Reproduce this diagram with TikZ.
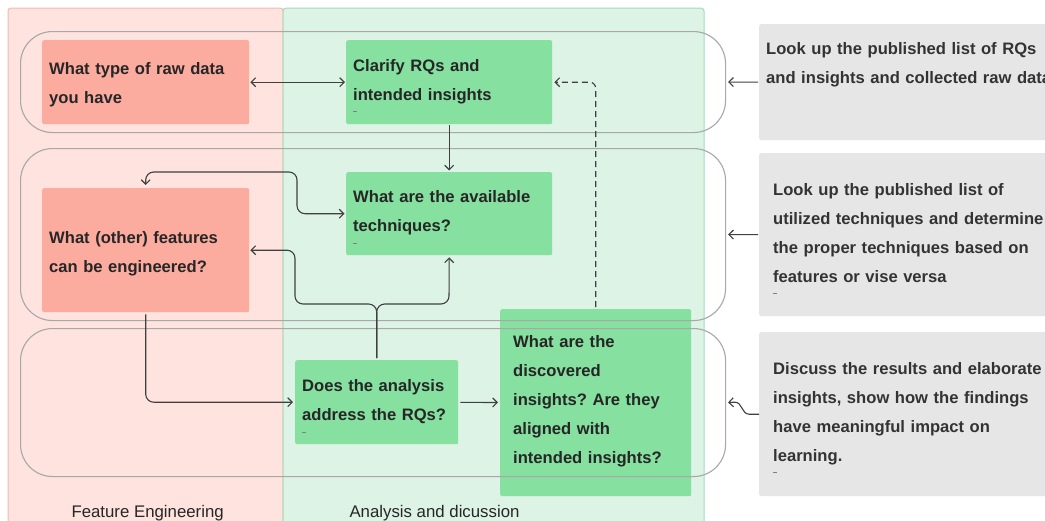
\documentclass[tikz,border=0pt]{standalone}
\usepackage{fontspec}
\setmainfont{Liberation Sans}
\frenchspacing
\usetikzlibrary{arrows.meta}
\definecolor{redlane}{HTML}{FEE3DE}
\definecolor{redlaneb}{HTML}{F6B9AD}
\definecolor{greenlane}{HTML}{DCF3E5}
\definecolor{greenlaneb}{HTML}{A3DDB8}
\definecolor{redbox}{HTML}{FCAC9F}
\definecolor{greenbox}{HTML}{86E0A0}
\definecolor{graybox}{HTML}{E6E6E6}
\definecolor{loopc}{HTML}{A8A8A8}
\definecolor{arrc}{HTML}{404040}
\definecolor{txt}{HTML}{262626}
\definecolor{txtg}{HTML}{333333}
\begin{document}
\begin{tikzpicture}[x=1pt,y=-1pt,
  box/.style={anchor=north west, inner ysep=0pt, align=left,
    font=\bfseries\fontsize{16.6}{29}\selectfont, rounded corners=2pt},
  rbox/.style={box, fill=redbox, text=txt, inner xsep=7pt},
  gbox/.style={box, fill=greenbox, text=txt, inner xsep=7pt},
  grbox/.style={box, fill=graybox, text=txtg},
  loopbox/.style={draw=loopc, line width=1.1pt, rounded corners=32pt, anchor=north west, inner sep=0pt},
  conn/.style={draw=arrc, line width=1.1pt, -{Straight Barb[length=4.5pt,width=9pt]}, rounded corners=8pt},
  tick/.style={draw=gray, line width=0.6pt},
  lanelabel/.style={anchor=base west, font=\fontsize{16.8}{20}\selectfont, text=txt}
]
\useasboundingbox (0,0) rectangle (1045,520);
\clip (0,0) rectangle (1045,520);
\fill[white] (0,0) rectangle (1045,520);
% lanes
\draw[fill=redlane, draw=redlaneb, line width=1pt, rounded corners=3pt] (8,8) rectangle (283,540);
\draw[fill=greenlane, draw=greenlaneb, line width=1pt, rounded corners=3pt] (283,8) rectangle (704,540);
\node[lanelabel] (lab1) at (68,517) {Feature Engineering};
\node[lanelabel] (lab2) at (346,517) {Analysis and dicussion};

% boxes
\node[rbox, text width=193pt, text height=34pt, text depth=50pt] (raw) at (42,40)
  {What type of raw data\\you have};
\node[gbox, text width=192pt, text height=31pt, text depth=53pt] (clar) at (346,40)
  {Clarify RQs and\\intended insights};
\node[gbox, text width=192pt, text height=30pt, text depth=53pt] (avail) at (346,172)
  {What are the available\\techniques?};
\node[rbox, text width=193pt, text height=55pt, text depth=69pt] (feat) at (42,188)
  {What (other) features\\can be engineered?};
\node[gbox, text width=149pt, text height=31pt, text depth=53pt] (does) at (295,360)
  {Does the analysis\\address the RQs?};
\node[gbox, inner xsep=13pt, text width=165pt, text height=38pt, text depth=149pt] (disc) at (500,309)
  {What are the\\discovered\\insights? Are they\\aligned with\\intended insights?};
\node[grbox, inner xsep=7pt, text width=386pt, text height=30pt, text depth=86pt] (g1) at (759,24)
  {Look up the published list of RQs\\and insights and collected raw data};
\node[grbox, inner xsep=14pt, text width=372pt, text height=42pt, text depth=121pt] (g2) at (759,153)
  {Look up the published list of\\utilized techniques and determine\\the proper techniques based on\\features or vise versa};
\node[grbox, inner xsep=14pt, text width=372pt, text height=42pt, text depth=122pt] (g3) at (759,332)
  {Discuss the results and elaborate\\insights, show how the findings\\have meaningful impact on\\learning.};

% small tick marks
\draw[tick] (353,111) -- ++(4,0);
\draw[tick] (353,243) -- ++(4,0);
\draw[tick] (302,432) -- ++(4,0);
\draw[tick] (773,293) -- ++(4,0);
\draw[tick] (773,472) -- ++(4,0);

% loops
\node[loopbox, minimum width=705pt, minimum height=101pt] (L1) at (20,31) {};
\node[loopbox, minimum width=705pt, minimum height=172pt] (L2) at (20,148) {};
\node[loopbox, minimum width=705pt, minimum height=148pt] (L3) at (20,328) {};

% connectors
\draw[conn, {Straight Barb[length=4.5pt,width=9pt]}-{Straight Barb[length=4.5pt,width=9pt]}, shorten <=1pt, shorten >=1pt] (raw) -- (clar);
\draw[conn, shorten >=1.5pt, shorten <=1pt] (clar) -- (avail);
\coordinate (k1) at (297,172);
\draw[conn, {Straight Barb[length=4.5pt,width=9pt]}-{Straight Barb[length=4.5pt,width=9pt]}, shorten <=3pt, shorten >=1.5pt] (feat.north) |- (k1) |- (avail.west);
\coordinate (s1) at (295,304);
\coordinate (s2) at (449,304);
\draw[conn, shorten <=2pt, shorten >=1pt] (does.north) |- (s1) |- (feat.east);
\draw[conn, shorten <=2pt, shorten >=2pt] (does.north) |- (s2) -- (avail.south);
\draw[conn, shorten <=2pt, shorten >=2pt] (feat.south) |- (does.west);
\draw[conn, shorten <=2pt, shorten >=2pt] (does) -- (disc);
\draw[conn, dash pattern=on 6pt off 4pt, rounded corners=6pt, shorten <=2pt, shorten >=2pt] (disc.north) |- (clar.east);
\draw[conn, shorten <=1pt, shorten >=2pt] (g1.west) -- (L1.east);
\draw[conn, shorten <=1pt, shorten >=2pt] (g2.west) -- (L2.east);
\draw[conn, rounded corners=0pt, shorten >=2pt] (g3.west) -- ++(-10,0) to[out=180,in=0] ++(-14,-12) -- (L3.east);
\end{tikzpicture}
\end{document}
